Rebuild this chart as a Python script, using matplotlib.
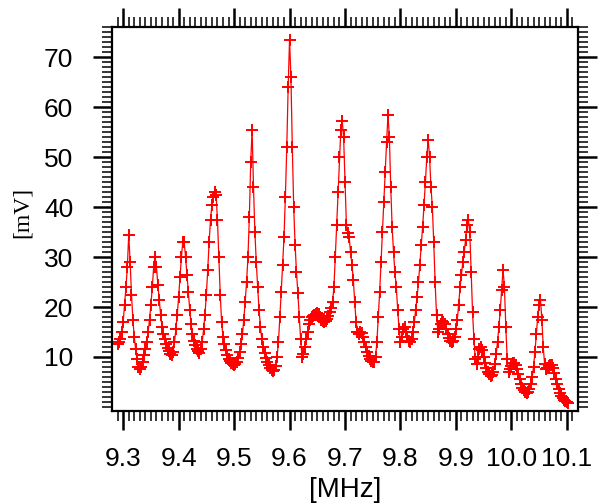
import numpy as np
import matplotlib
matplotlib.use("Agg")
import matplotlib.pyplot as plt
from matplotlib.ticker import MultipleLocator

# sweep: 9.29 MHz to 10.1025 MHz, one reading every 2.5 kHz
sweep_start = 9.29
sweep_stop = 10.1025

# signal amplitude in mV
mv = [
    # 9.2900 - 9.3375
    12.5, 13.0, 13.5, 15.0, 17.0, 20.5, 24.0, 28.0, 34.5, 29.0,
    22.5, 17.5, 14.0, 11.5, 9.5, 8.0, 7.5, 8.0, 9.0, 10.3,
    # 9.3400 - 9.3875
    11.5, 13.0, 15.0, 17.5, 20.5, 24.0, 28.0, 30.0, 28.0, 24.5,
    21.5, 18.5, 16.0, 14.5, 13.5, 12.5, 11.8, 11.2, 10.6, 10.4,
    # 9.3900 - 9.4375
    11.0, 13.0, 15.5, 18.5, 22.0, 26.0, 30.0, 33.0, 33.0, 30.0,
    26.5, 23.0, 19.5, 16.5, 14.5, 13.2, 12.3, 11.6, 11.1, 10.8,
    # 9.4400 - 9.4875
    11.5, 13.0, 15.5, 18.5, 22.5, 27.5, 33.0, 37.5, 40.5, 42.0,
    43.0, 42.5, 37.5, 30.0, 22.5, 17.0, 14.0, 12.5, 11.3, 10.3,
    # 9.4900 - 9.5375
    9.6, 9.1, 8.8, 8.6, 8.4, 8.5, 9.0, 9.8, 11.0, 12.5,
    14.5, 17.5, 21.0, 25.0, 30.0, 38.0, 49.0, 55.5, 44.0, 35.0,
    # 9.5400 - 9.5875
    29.0, 24.0, 19.5, 16.0, 13.5, 12.0, 10.8, 9.8, 9.0, 8.3,
    7.8, 7.4, 7.1, 7.4, 8.2, 10.0, 13.0, 18.0, 23.0, 28.5,
    # 9.5900 - 9.6375
    34.0, 42.0, 52.0, 64.0, 73.5, 66.0, 52.0, 40.0, 32.5, 27.0,
    22.8, 18.0, 13.5, 10.0, 10.5, 12.0, 13.5, 15.0, 16.5, 17.5,
    # 9.6400 - 9.6875
    18.0, 18.3, 18.5, 18.6, 18.8, 18.6, 18.0, 17.5, 17.2, 17.0,
    17.2, 17.6, 18.2, 19.0, 19.8, 21.0, 24.0, 30.0, 36.5, 43.0,
    # 9.6900 - 9.7375
    50.0, 55.5, 57.2, 54.0, 45.0, 36.5, 34.8, 34.0, 31.0, 28.5,
    25.5, 21.0, 17.0, 15.0, 14.5, 15.0, 14.8, 14.0, 13.0, 12.0,
    # 9.7400 - 9.7875
    11.0, 10.2, 9.6, 9.2, 9.0, 9.0, 10.0, 13.0, 18.0, 23.0,
    29.0, 35.0, 41.0, 47.0, 53.0, 58.5, 54.0, 44.0, 36.0, 31.0,
    # 9.7900 - 9.8375
    27.0, 24.0, 19.5, 15.5, 13.0, 14.0, 15.5, 16.0, 15.0, 14.0,
    13.2, 13.0, 13.5, 15.0, 17.0, 19.5, 22.0, 25.0, 28.5, 32.5,
    # 9.8400 - 9.8875
    36.0, 40.5, 45.0, 50.0, 53.5, 50.0, 44.0, 40.0, 33.0, 25.0,
    18.5, 15.0, 15.5, 16.5, 17.2, 17.0, 16.5, 15.5, 14.5, 13.8,
    # 9.8900 - 9.9375
    13.2, 13.0, 13.2, 14.0, 15.5, 17.5, 20.5, 24.0, 26.5, 29.0,
    31.0, 33.5, 36.5, 37.5, 35.0, 27.0, 19.0, 13.5, 9.5, 8.5,
    # 9.9400 - 9.9875
    10.0, 11.5, 12.0, 11.3, 10.0, 8.8, 7.8, 7.0, 6.5, 6.2,
    6.3, 7.0, 8.5, 10.5, 13.0, 16.0, 19.5, 23.5, 27.5, 24.0,
    # 9.9900 - 10.0375
    16.0, 9.5, 7.0, 7.5, 8.2, 8.7, 8.8, 8.3, 7.5, 6.5,
    5.5, 4.6, 3.8, 3.3, 3.0, 2.8, 3.0, 3.5, 4.5, 6.0,
    # 10.0400 - 10.0875
    8.0, 11.0, 14.5, 18.0, 20.5, 21.5, 17.5, 12.0, 8.5, 7.5,
    7.8, 8.2, 8.4, 8.3, 7.8, 6.8, 5.6, 4.5, 3.5, 2.8,
    # 10.0900 - 10.1025
    2.2, 1.8, 1.4, 1.2, 1.0, 0.8,
]

freq = np.linspace(sweep_start, sweep_stop, len(mv))

x_ticks = [9.3, 9.4, 9.5, 9.6, 9.7, 9.8, 9.9, 10.0, 10.1]
x_tick_labels = ["9.3", "9.4", "9.5", "9.6", "9.7", "9.8", "9.9", "10.0", "10.1"]
y_ticks = [10, 20, 30, 40, 50, 60, 70]

fig = plt.figure(figsize=(6.0, 5.03), dpi=100)
ax = fig.add_axes([0.187, 0.183, 0.776, 0.763])

ax.plot(freq, mv, color="#ff0000", lw=0.9, marker="+", ms=9, mew=1.4)

ax.set_xlim(9.2802, 10.1198)
ax.set_ylim(-0.8, 76)

ax.set_xticks(x_ticks)
ax.set_xticklabels(x_tick_labels)
ax.set_yticks(y_ticks)
ax.xaxis.set_minor_locator(MultipleLocator(0.01))
ax.yaxis.set_minor_locator(MultipleLocator(1))

ax.tick_params(which="both", direction="out", top=True, right=True,
               labeltop=False, labelright=False)
ax.tick_params(which="major", length=14, width=1.8, labelsize=19)
ax.tick_params(which="minor", length=7, width=1.1)
ax.tick_params(axis="x", which="major", pad=12)
ax.tick_params(axis="y", which="major", pad=14)
for lab in ax.get_xticklabels() + ax.get_yticklabels():
    lab.set_family("Liberation Sans")

for s in ax.spines.values():
    s.set_linewidth(1.6)

fig.text(0.037, 0.578, "[mV]", rotation=90, ha="center", va="center",
         family="Liberation Serif", fontsize=17)
fig.text(0.576, 0.026, "[MHz]", ha="center", va="center",
         family="Liberation Sans", fontsize=20)

fig.savefig("out.png", dpi=100)
